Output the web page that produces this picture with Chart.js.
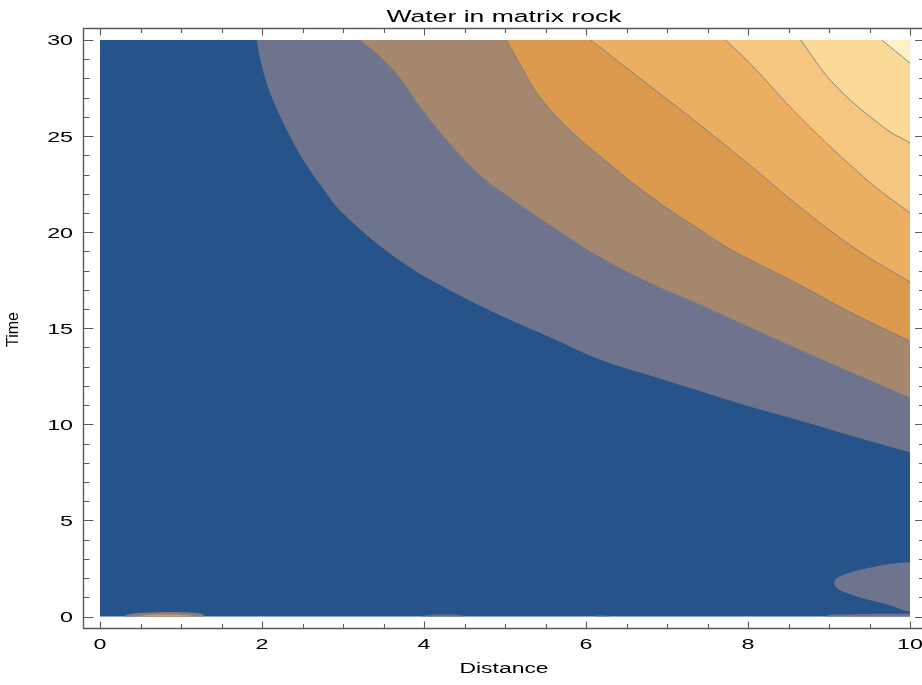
<!DOCTYPE html>
<html><head><meta charset="utf-8">
<script src="https://cdn.jsdelivr.net/npm/chart.js@4/dist/chart.umd.min.js"></script>
<style>html,body{margin:0;padding:0;background:#fff;overflow:hidden}canvas{display:block}</style>
</head><body>
<canvas id="c" width="922" height="685"></canvas>
<script>
// ---------- texts ----------
const chartTitle = 'Water in matrix rock';
const xAxisTitle = 'Distance';
const yAxisTitle = 'Time';

// ---------- ticks ----------
const xMajorTicks = [0, 2, 4, 6, 8, 10];
const xTickLabels = ['0', '2', '4', '6', '8', '10'];
const xMinorTicks = [0.5, 1, 1.5, 2.5, 3, 3.5, 4.5, 5, 5.5, 6.5, 7, 7.5, 8.5, 9, 9.5];
const yMajorTicks = [0, 5, 10, 15, 20, 25, 30];
const yTickLabels = ['0', '5', '10', '15', '20', '25', '30'];
const yMinorTicks = [1, 2, 3, 4, 6, 7, 8, 9, 11, 12, 13, 14, 16, 17, 18, 19, 21, 22, 23, 24, 26, 27, 28, 29];

// ---------- axis ranges (frame extends past the data domain) ----------
const xAxisMin = -0.2099, xAxisMax = 10.148, xFrameMax = 10.185;
const yAxisMin = -0.650, yAxisMax = 30.624;
const dataDomainX = [0, 10];
const dataDomainTop = 30;

// ---------- contour boundaries [distance, time] ----------
const contour1 = [[1.94,30.0],[1.98,29.1],[2.06,27.8],[2.19,26.4],[2.35,25.0],[2.51,23.8],[2.72,22.5],[3.00,21.0],[3.70,18.55],[4.32,17.0],[4.94,15.7],[5.56,14.55],[6.17,13.40],[6.80,12.55],[7.41,11.75],[8.02,10.95],[8.64,10.22],[9.30,9.40],[10.0,8.56]];
const contour2 = [[3.21,30.0],[3.46,29.11],[3.70,28.02],[3.95,26.51],[4.28,24.79],[4.69,22.97],[5.10,21.67],[5.68,20.01],[6.17,18.70],[6.79,17.35],[7.41,16.21],[8.09,14.91],[8.64,13.87],[9.26,12.72],[10.0,11.37]];
const contour3 = [[5.02,30.0],[5.19,28.69],[5.43,27.03],[5.80,25.31],[6.17,23.96],[6.79,21.88],[7.41,20.11],[7.80,19.07],[8.64,17.25],[9.26,15.84],[10.0,14.33]];
const contour4 = [[6.05,30.0],[6.17,29.63],[6.79,27.60],[7.41,25.57],[8.02,23.49],[8.64,21.31],[9.35,19.07],[10.0,17.40]];
const contour5 = [[7.72,30.0],[8.02,28.80],[8.64,25.99],[9.47,22.71],[10.0,20.99]];
const contour6 = [[8.65,30.0],[9.05,27.76],[9.67,25.47],[10.0,24.64]];
const contour7 = [[9.65,30.0],[10.0,28.80]];

// small features near Time = 0
const lobeRightTop = [[9.06,1.74],[9.09,1.98],[9.2,2.2],[9.4,2.44],[9.6,2.62],[9.8,2.76],[10.0,2.84]];
const lobeRightBottom = [[9.06,1.74],[9.09,1.5],[9.2,1.25],[9.4,0.98],[9.6,0.75],[9.8,0.52],[9.92,0.32],[10.0,0.25]];
const stripRight = [[8.95,0.0],[9.0,0.08],[9.3,0.12],[9.7,0.14],[10.0,0.15]];
const blobLeftOuter = [[0.28,0],[0.36,0.12],[0.5,0.18],[0.7,0.22],[0.9,0.24],[1.1,0.21],[1.25,0.14],[1.3,0]];
const blobLeftInner = [[0.42,0],[0.55,0.07],[0.8,0.1],[1.05,0.08],[1.2,0]];
const blobMid = [[3.95,0],[4.05,0.08],[4.25,0.1],[4.45,0.08],[4.5,0]];
const blobMid2 = [[6.1,0],[6.15,0.05],[6.25,0.05],[6.3,0]];

// ---------- colours ----------
const bandColors = ['rgb(38,83,137)','rgb(110,116,142)','rgb(164,135,109)','rgb(220,154,78)','rgb(236,175,98)','rgb(245,198,128)','rgb(251,218,152)','rgb(254,241,198)'];
const contourLineColor = 'rgba(120,120,128,0.85)';

const pts = a => a.map(p => ({x: p[0], y: p[1]}));

const contours = [contour1, contour2, contour3, contour4, contour5, contour6, contour7];
const datasets = [];
datasets.push({label:'band0', data: pts([[dataDomainX[0],0],[dataDomainX[1],0]]), fill:{value:dataDomainTop}, backgroundColor: bandColors[0], borderWidth:0, tension:0, order:40});
contours.forEach((c, i) => {
  datasets.push({label:'band'+(i+1), data: pts(c), fill:{value:dataDomainTop}, backgroundColor: bandColors[i+1], borderColor: contourLineColor, borderWidth: 1, order: 39 - i});
});
datasets.push({label:'lobeTop', data: pts(lobeRightTop), fill:'+1', backgroundColor: bandColors[1], borderWidth:0, order:10});
datasets.push({label:'lobeBottom', data: pts(lobeRightBottom), fill:false, borderWidth:0, order:10});
datasets.push({label:'strip', data: pts(stripRight), fill:{value:0}, backgroundColor: bandColors[1], borderWidth:0, order:9});
datasets.push({label:'blobOuter', data: pts(blobLeftOuter), fill:{value:0}, backgroundColor: 'rgb(135,125,125)', borderWidth:0, order:8});
datasets.push({label:'blobInner', data: pts(blobLeftInner), fill:{value:0}, backgroundColor: 'rgb(205,155,95)', borderWidth:0, order:7});
datasets.push({label:'blobMid', data: pts(blobMid), fill:{value:0}, backgroundColor: 'rgb(105,110,135)', borderWidth:0, order:8});
datasets.push({label:'blobMid2', data: pts(blobMid2), fill:{value:0}, backgroundColor: 'rgb(105,110,135)', borderWidth:0, order:8});

const FONT = "'Liberation Sans', Arial, Helvetica, sans-serif";
function stretched(ctx, text, x, y, sx, align, size) {
  ctx.save();
  ctx.font = size + 'px ' + FONT;
  ctx.translate(x, y);
  ctx.scale(sx, 1);
  ctx.textAlign = align;
  ctx.textBaseline = 'alphabetic';
  ctx.fillText(text, 0, 0);
  ctx.restore();
}

const framePlugin = {
  id: 'frameTicksText',
  beforeDraw(chart) {
    const ctx = chart.ctx;
    ctx.save(); ctx.fillStyle = '#fff'; ctx.fillRect(0, 0, chart.width, chart.height); ctx.restore();
  },
  afterDraw(chart) {
    const ctx = chart.ctx, a = chart.chartArea, xs = chart.scales.x, ys = chart.scales.y;
    const L = a.left + 0.5, T = a.top + 0.5, B = a.bottom - 0.5, R = xs.getPixelForValue(xFrameMax);
    ctx.save();
    ctx.strokeStyle = '#5a5a5a';
    ctx.lineWidth = 1.4;
    ctx.beginPath();
    ctx.moveTo(R, T); ctx.lineTo(L, T); ctx.lineTo(L, B); ctx.lineTo(R, B); ctx.lineTo(R, T);
    ctx.stroke();
    ctx.lineWidth = 1.1;
    ctx.beginPath();
    const xt = (v, len) => { const p = Math.round(xs.getPixelForValue(v)) + 0.5; ctx.moveTo(p, B); ctx.lineTo(p, B - len); ctx.moveTo(p, T); ctx.lineTo(p, T + len); };
    const yt = (v, len) => { const p = Math.round(ys.getPixelForValue(v)) + 0.5; ctx.moveTo(L, p); ctx.lineTo(L + len, p); ctx.moveTo(R, p); ctx.lineTo(R - len, p); };
    xMajorTicks.forEach(v => xt(v, 7));
    xMinorTicks.forEach(v => xt(v, 4.5));
    yMajorTicks.forEach(v => yt(v, 10));
    yMinorTicks.forEach(v => yt(v, 6));
    ctx.stroke();
    ctx.fillStyle = '#000';
    // tick labels
    xMajorTicks.forEach((v, i) => stretched(ctx, xTickLabels[i], xs.getPixelForValue(v), a.bottom + 20, 1.5, 'center', 15.5));
    yMajorTicks.forEach((v, i) => stretched(ctx, yTickLabels[i], a.left - 10, ys.getPixelForValue(v) + 5.5, 1.5, 'right', 15.5));
    // titles
    const cx = (a.left + R) / 2;
    stretched(ctx, chartTitle, cx, 21.7, 1.63, 'center', 16.3);
    stretched(ctx, xAxisTitle, cx, a.bottom + 44, 1.49, 'center', 15.4);
    ctx.save();
    ctx.translate(17.5, (a.top + a.bottom) / 2 + 1);
    ctx.rotate(-Math.PI / 2);
    ctx.font = '16px ' + FONT;
    ctx.textAlign = 'center';
    ctx.textBaseline = 'alphabetic';
    ctx.fillText(yAxisTitle, 0, 0);
    ctx.restore();
    ctx.restore();
  }
};

new Chart(document.getElementById('c'), {
  type: 'scatter',
  data: { datasets },
  options: {
    responsive: false,
    animation: false,
    devicePixelRatio: 1,
    showLine: true,
    layout: { padding: { left: 83, top: 28, right: 0, bottom: 56 } },
    elements: { point: { radius: 0, hoverRadius: 0 }, line: { tension: 0.4, cubicInterpolationMode: 'default' } },
    scales: {
      x: { type: 'linear', display: false, min: xAxisMin, max: xAxisMax },
      y: { type: 'linear', display: false, min: yAxisMin, max: yAxisMax }
    },
    plugins: { legend: { display: false }, tooltip: { enabled: false }, title: { display: false } }
  },
  plugins: [framePlugin]
});
</script>
</body></html>
